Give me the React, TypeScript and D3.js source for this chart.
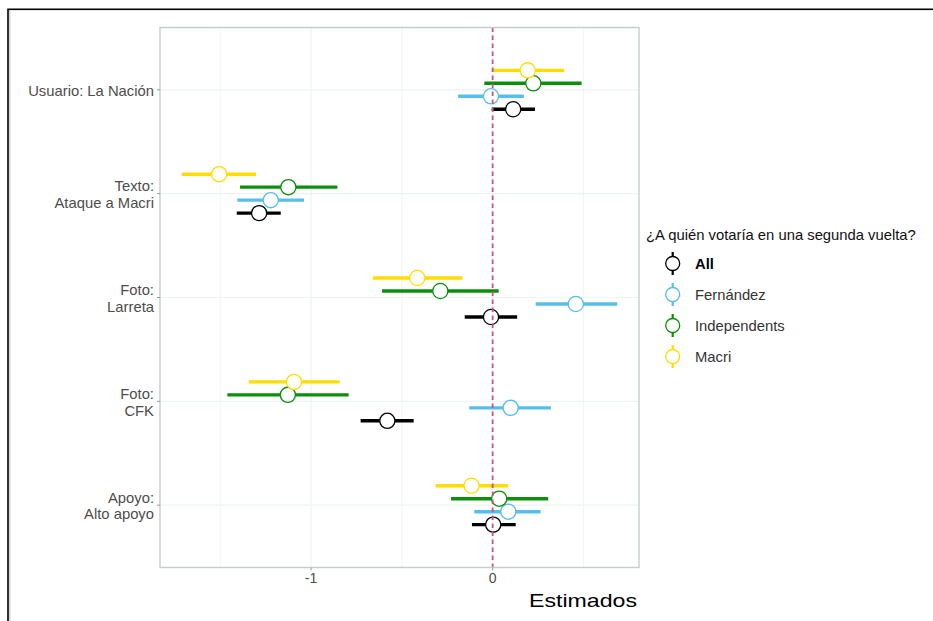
import React from "react";
import * as d3 from "d3";

const categories = [
  "Usuario: La Nación",
  "Texto:\nAtaque a Macri",
  "Foto:\nLarreta",
  "Foto:\nCFK",
  "Apoyo:\nAlto apoyo",
];
const groups = ["All", "Fernández", "Independents", "Macri"];
const groupColors = ["#000000", "#56BEEB", "#0A8F0A", "#FFDD00"];

const estAll = [0.113, -1.286, -0.009, -0.58, 0.003];
const loAll = [-0.005, -1.409, -0.154, -0.727, -0.114];
const hiAll = [0.233, -1.167, 0.135, -0.435, 0.127];

const estFer = [-0.009, -1.222, 0.458, 0.099, 0.086];
const loFer = [-0.19, -1.406, 0.237, -0.129, -0.101];
const hiFer = [0.172, -1.039, 0.686, 0.321, 0.264];

const estInd = [0.224, -1.125, -0.288, -1.128, 0.036];
const loInd = [-0.046, -1.391, -0.609, -1.461, -0.229];
const hiInd = [0.49, -0.855, 0.033, -0.793, 0.306];

const estMac = [0.193, -1.506, -0.415, -1.094, -0.116];
const loMac = [-0.005, -1.712, -0.66, -1.343, -0.314];
const hiMac = [0.394, -1.303, -0.167, -0.842, 0.086];

const xTicks = [-1, 0];
const xMinor = [-1.5, -0.5, 0.5];
const xTitle = "Estimados";
const legendTitle = "¿A quién votaría en una segunda vuelta?";

const series = [
  { g: groups[0], est: estAll, lo: loAll, hi: hiAll },
  { g: groups[1], est: estFer, lo: loFer, hi: hiFer },
  { g: groups[2], est: estInd, lo: loInd, hi: hiInd },
  { g: groups[3], est: estMac, lo: loMac, hi: hiMac },
];

const W = 933;
const H = 621;
const P = { left: 160, right: 639, top: 27.5, bottom: 567.5 };
const FONT = "'Liberation Sans', Arial, sans-serif";

export default function App() {
  const allVals = series.flatMap((s) => [...s.lo, ...s.hi]);
  const [mn, mx] = d3.extent(allVals) as [number, number];
  const pad = (mx - mn) * 0.05;
  const x = d3.scaleLinear().domain([mn - pad, mx + pad]).range([P.left, P.right]);
  const y = d3.scalePoint<string>().domain(categories).range([P.top, P.bottom]).padding(0.6);
  const step = y.step();
  const dodge = d3
    .scaleBand<string>()
    .domain([...groups].reverse())
    .range([-step * 0.25, step * 0.25]);
  const color = d3.scaleOrdinal<string, string>().domain(groups).range(groupColors);

  const gridColor = "#EEF3F3";
  const axisText = "#4D4D4D";

  return (
    <svg
      width={W}
      height={H}
      style={{ position: "absolute", left: 0, top: 0, background: "#fff" }}
      fontFamily={FONT}
    >
      <rect x={0} y={0} width={W} height={H} fill="#fff" />
      <line x1={9.8} x2={9.8} y1={10.5} y2={H} stroke="#C8C8C8" strokeWidth={1.2} />
      <rect x={8} y={9.3} width={W + 50} height={H + 50} fill="none" stroke="#000" strokeWidth={1.6} />

      {/* grid */}
      {xMinor.map((v) => (
        <line key={"mi" + v} x1={x(v)} x2={x(v)} y1={P.top} y2={P.bottom} stroke={gridColor} strokeWidth={0.8} />
      ))}
      {xTicks.map((v) => (
        <line key={"ma" + v} x1={x(v)} x2={x(v)} y1={P.top} y2={P.bottom} stroke={gridColor} strokeWidth={1.2} />
      ))}
      {categories.map((c) => (
        <line key={"gy" + c} x1={P.left} x2={P.right} y1={y(c)!} y2={y(c)!} stroke={gridColor} strokeWidth={1.2} />
      ))}

      {/* error bars and points */}
      {series.map((s) =>
        categories.map((c, i) => {
          const yy = y(c)! + dodge(s.g)! + dodge.bandwidth() / 2;
          return (
            <g key={s.g + c}>
              <line
                x1={x(s.lo[i])}
                x2={x(s.hi[i])}
                y1={yy}
                y2={yy}
                stroke={color(s.g)}
                strokeWidth={3.4}
              />
              <circle cx={x(s.est[i])} cy={yy} r={7.6} fill="#fff" stroke={color(s.g)} strokeWidth={1.3} />
            </g>
          );
        })
      )}

      {/* zero line */}
      <line
        x1={x(0)}
        x2={x(0)}
        y1={P.top}
        y2={P.bottom}
        stroke="#C2587E"
        strokeWidth={1.8}
        strokeDasharray="4.5,3.5"
      />

      {/* panel border */}
      <rect
        x={P.left}
        y={P.top}
        width={P.right - P.left}
        height={P.bottom - P.top}
        fill="none"
        stroke="#C3CDCD"
        strokeWidth={1.4}
      />

      {/* x axis */}
      {xTicks.map((v) => (
        <g key={"xt" + v}>
          <line x1={x(v)} x2={x(v)} y1={P.bottom} y2={P.bottom + 3} stroke="#999" strokeWidth={1} />
          <text x={x(v)} y={P.bottom + 15.5} textAnchor="middle" fontSize={14} fill={axisText}>
            {v === 0 ? "0" : "-" + Math.abs(v)}
          </text>
        </g>
      ))}
      <text
        x={529}
        y={607}
        fontSize={19}
        textLength={108}
        lengthAdjust="spacingAndGlyphs"
        fill="#000"
      >
        {xTitle}
      </text>

      {/* y axis */}
      {categories.map((c) => {
        const lines = c.split("\n");
        const lh = 16.6;
        const y0 = y(c)! - ((lines.length - 1) * lh) / 2 + 6;
        return (
          <g key={"yt" + c}>
            <line x1={P.left - 3} x2={P.left} y1={y(c)!} y2={y(c)!} stroke="#999" strokeWidth={1} />
            <text textAnchor="end" fontSize={14.8} fill={axisText}>
              {lines.map((l, k) => (
                <tspan key={k} x={P.left - 6} y={y0 + k * lh}>
                  {l}
                </tspan>
              ))}
            </text>
          </g>
        );
      })}

      {/* legend */}
      <text x={646} y={240} fontSize={14.8} fill="#111">
        {legendTitle}
      </text>
      {groups.map((g, i) => {
        const cy = 263.5 + i * 31;
        return (
          <g key={"lg" + g}>
            <line x1={672.7} x2={672.7} y1={cy - 11.5} y2={cy + 11.5} stroke={color(g)} strokeWidth={2.2} />
            <circle cx={672.7} cy={cy} r={7} fill="#fff" stroke={color(g)} strokeWidth={1.3} />
            <text
              x={695}
              y={cy + 5.2}
              fontSize={14.8}
              fill={i === 0 ? "#000" : "#333"}
              fontWeight={i === 0 ? "bold" : "normal"}
            >
              {g}
            </text>
          </g>
        );
      })}
    </svg>
  );
}
